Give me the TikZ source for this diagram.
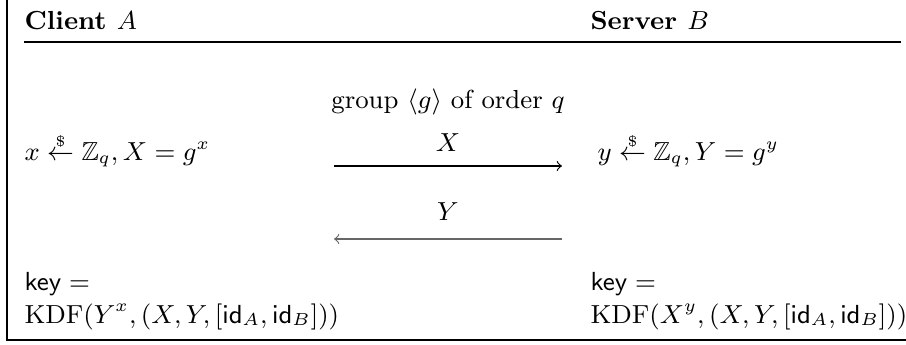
\documentclass[tikz,border=0pt]{standalone}
\usepackage{amsmath, amssymb}
\usetikzlibrary{positioning}
\newcommand{\smp}{\stackrel{\scriptscriptstyle\$}{\leftarrow}}

\begin{document}
\begin{tikzpicture}[
    x=0.3448pt, y=-0.3448pt,
    font=\fontsize{9}{11}\selectfont,
    party/.style={anchor=base west, inner sep=0pt, font=\fontsize{9}{11}\selectfont\bfseries},
    lhs/.style={anchor=base west, inner sep=0pt},
    msg/.style={anchor=base, inner sep=0pt},
    flow/.style={->, line width=0.4pt}
  ]
    \useasboundingbox (0,0) rectangle (906,345);

    % Frame
    \draw [line width=0.5pt] (7,0) -- (7,340) -- (906,340);

    % Header
    \node (cl) [party] at (24,30) {Client $A$};
    \node (sv) [party] at (590,30) {Server $B$};
    \draw [line width=0.5pt] (24,42) -- (901,42);

    \node (grp) [msg] at (448,109) {group $\langle g\rangle$ of order $q$};

    % Sampling
    \node (sa) [lhs] at (24,161) {$x \smp \mathbb{Z}_q, X = g^x$};
    \node (sb) [lhs] at (597,161) {$y \smp \mathbb{Z}_q, Y = g^y$};

    % Messages
    \node (mx) [msg] at (448,152) {$X$};
    \coordinate (m1w) at (334,166);
    \coordinate (m1e) at (562,166);
    \draw [flow] (m1w) -- (m1e);

    \node (my) [msg] at (448,221) {$Y$};
    \coordinate (m2w) at (334,239);
    \coordinate (m2e) at (562,239);
    \draw [flow, black!60] (m2e) -- (m2w);

    % Keys
    \node (ka) [lhs] at (24,290) {$\mathsf{key} =$};
    \node (kda) [lhs] at (24,323) {$\mathrm{KDF}(Y^x, (X, Y, [\mathsf{id}_A, \mathsf{id}_B]))$};
    \node (kb) [lhs] at (590,290) {$\mathsf{key} =$};
    \node (kdb) [lhs] at (590,323) {$\mathrm{KDF}(X^y, (X, Y, [\mathsf{id}_A, \mathsf{id}_B]))$};
\end{tikzpicture}
\end{document}
